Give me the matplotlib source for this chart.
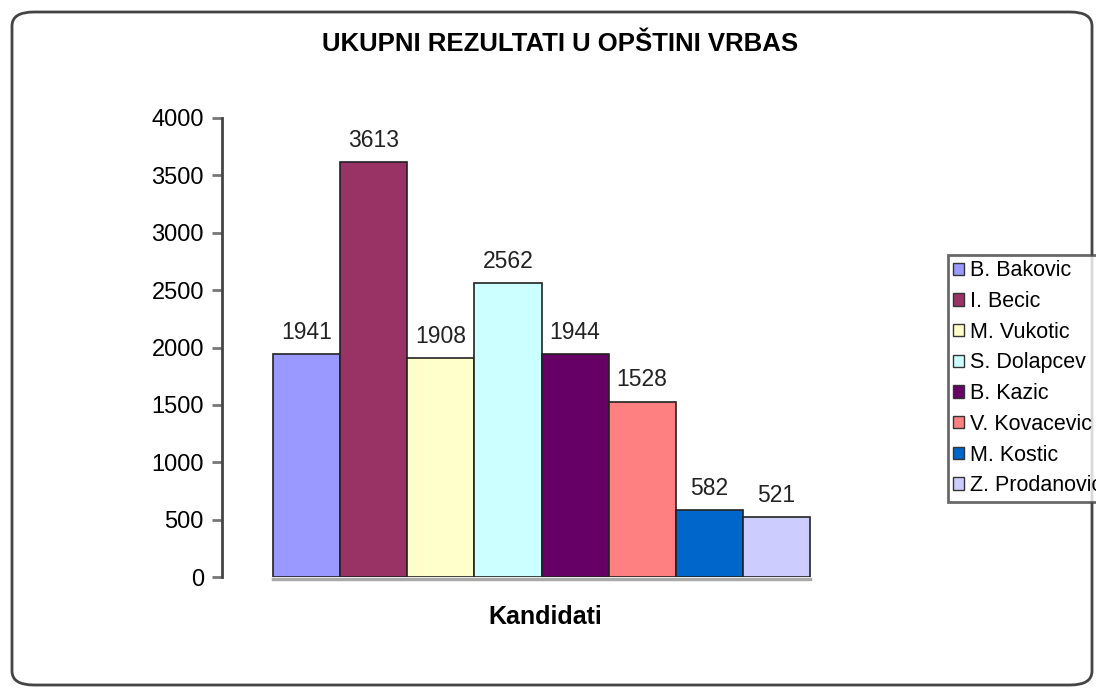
import matplotlib.pyplot as plt
from matplotlib.patches import FancyBboxPatch, Patch

kandidati = ['B. Bakovic', 'I. Becic', 'M. Vukotic', 'S. Dolapcev',
             'B. Kazic', 'V. Kovacevic', 'M. Kostic', 'Z. Prodanovic']
glasovi = [1941, 3613, 1908, 2562, 1944, 1528, 582, 521]
boje = ['#9999FF', '#993366', '#FFFFCC', '#CCFFFF',
        '#660066', '#FF8080', '#0066CC', '#CCCCFF']

plt.rcParams['font.family'] = ['Liberation Sans', 'DejaVu Sans']

fig = plt.figure(figsize=(10.96, 6.97), dpi=100)
ax = fig.add_axes([222 / 1096, 1 - 577 / 697, 639 / 1096, 459 / 697])

x = list(range(len(glasovi)))
bars = ax.bar(x, glasovi, width=1.0, color=boje, edgecolor='#222222', linewidth=1.2)
for xi, v in zip(x, glasovi):
    ax.text(xi, v + 90, str(v), ha='center', va='bottom', fontsize=16.5, color='#222222')

# sjenka ispod stubica
ax.plot([-0.5, 7.5], [-15, -15], color='#aaaaaa', linewidth=2.5, clip_on=False, zorder=1)

ax.set_xlim(-0.5 - 0.76, 7.5 + 0.76)
ax.set_ylim(0, 4000)
ax.set_yticks(range(0, 4001, 500))
ax.set_xticks([])
for s in ['top', 'right', 'bottom']:
    ax.spines[s].set_visible(False)
ax.spines['left'].set_linewidth(2)
ax.spines['left'].set_color('#444444')
ax.tick_params(axis='y', length=7, width=2, color='#777777', labelsize=17, pad=6)

fig.text(545 / 1096, 1 - 617 / 697, 'Kandidati', ha='center', va='center',
         fontsize=18, fontweight='bold')
fig.text(560 / 1096, 1 - 44 / 697, 'UKUPNI REZULTATI U OPŠTINI VRBAS', ha='center',
         va='center', fontsize=18.5, fontweight='bold')

handles = [Patch(facecolor=c, edgecolor='#333333', label=k) for c, k in zip(boje, kandidati)]
leg = fig.legend(handles=handles, loc='upper left', bbox_to_anchor=(948 / 1096, 1 - 255 / 697),
                 fontsize=15.5, frameon=True, fancybox=False, handlelength=0.5,
                 handleheight=0.5, handletextpad=0.25, labelspacing=0.45,
                 borderaxespad=0, borderpad=0.25)
leg.get_frame().set_edgecolor('#444444')
leg.get_frame().set_linewidth(2)

frame = FancyBboxPatch((12 / 1096, 12 / 697), 1080 / 1096, 673 / 697,
                       boxstyle='round,pad=0,rounding_size=0.02',
                       transform=fig.transFigure, fill=False,
                       edgecolor='#444444', linewidth=2)
fig.patches.append(frame)

fig.savefig('out.png', dpi=100)
